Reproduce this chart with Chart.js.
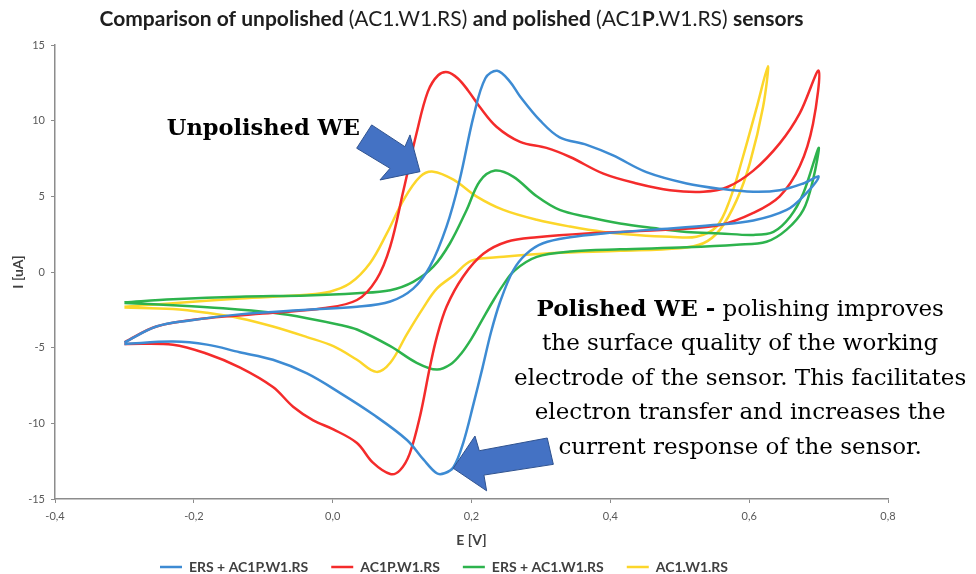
<!DOCTYPE html>
<html>
<head>
<meta charset="utf-8">
<script src="https://cdn.jsdelivr.net/npm/chart.js@4.4.1/dist/chart.umd.min.js"></script>
<style>
  html, body { margin: 0; padding: 0; background: #fff; }
  #wrap { width: 976px; height: 574px; }
</style>
</head>
<body>
<div id="wrap"><canvas id="cv" width="976" height="574"></canvas></div>
<script>
// cyclic voltammograms: potential E [V] against current I [uA]
const seriesLabels = ['ERS + AC1P.W1.RS', 'AC1P.W1.RS', 'ERS + AC1.W1.RS', 'AC1.W1.RS'];
const seriesColors = ['#3d8bd3', '#f42b2b', '#2db34d', '#fcd62a'];

// ERS + AC1P.W1.RS (polished, blue)
const ersAc1pE = [-0.300, -0.254, -0.206, -0.134, -0.037, 0.035, 0.083, 0.116, 0.140, 0.164, 0.183, 0.203, 0.220, 0.237, 0.255, 0.270, 0.299, 0.327, 0.366, 0.404, 0.452, 0.510, 0.558, 0.606, 0.644, 0.678, 0.700,
  0.678, 0.654, 0.606, 0.548, 0.462, 0.390, 0.342, 0.303, 0.279, 0.260, 0.241, 0.228, 0.216, 0.203, 0.188, 0.174, 0.161, 0.150, 0.131, 0.107, 0.058, 0.011, -0.037, -0.086, -0.134, -0.181, -0.230, -0.300];
const ersAc1pI = [-4.65, -3.6, -3.2, -2.8, -2.5, -2.3, -1.95, -1.1, 0.35, 3.0, 6.1, 10.3, 12.8, 13.3, 12.6, 11.6, 10.0, 8.9, 8.4, 7.7, 6.6, 5.85, 5.5, 5.3, 5.4, 5.85, 6.3,
  5.0, 4.1, 3.4, 3.1, 2.8, 2.55, 2.3, 1.9, 1.2, 0.1, -2.0, -4.0, -6.3, -8.7, -11.3, -12.9, -13.3, -13.3, -12.4, -11.1, -9.4, -8.0, -6.7, -5.8, -5.3, -4.8, -4.6, -4.75];

// AC1P.W1.RS (polished, red)
const ac1pE = [-0.300, -0.254, -0.181, -0.086, -0.014, 0.035, 0.063, 0.083, 0.102, 0.121, 0.137, 0.152, 0.166, 0.180, 0.195, 0.212, 0.236, 0.270, 0.308, 0.342, 0.390, 0.438, 0.486, 0.534, 0.568, 0.606, 0.644, 0.673, 0.700,
  0.692, 0.673, 0.644, 0.606, 0.558, 0.486, 0.366, 0.294, 0.251, 0.217, 0.188, 0.164, 0.150, 0.140, 0.126, 0.111, 0.097, 0.083, 0.058, 0.035, 0.001, -0.028, -0.057, -0.086, -0.134, -0.181, -0.230, -0.300];
const ac1pI = [-4.65, -3.6, -3.05, -2.7, -2.4, -1.85, -0.5, 1.7, 5.4, 9.2, 11.9, 13.0, 13.2, 12.8, 12.0, 10.9, 9.6, 8.6, 8.2, 7.6, 6.5, 5.85, 5.4, 5.3, 5.6, 6.7, 8.5, 10.5, 13.3,
  9.8, 7.0, 5.0, 3.9, 3.1, 2.8, 2.55, 2.3, 2.0, 1.2, -0.3, -2.3, -4.3, -6.3, -9.5, -12.0, -13.1, -13.35, -12.6, -11.3, -10.4, -9.8, -8.9, -7.6, -6.3, -5.4, -4.8, -4.75];

// ERS + AC1.W1.RS (unpolished, green)
const ersAc1E = [-0.300, -0.230, -0.134, -0.037, 0.035, 0.083, 0.116, 0.145, 0.169, 0.193, 0.212, 0.234, 0.260, 0.294, 0.327, 0.366, 0.414, 0.462, 0.510, 0.558, 0.606, 0.635, 0.659, 0.678, 0.700,
  0.692, 0.678, 0.654, 0.625, 0.582, 0.510, 0.414, 0.342, 0.294, 0.262, 0.245, 0.230, 0.215, 0.200, 0.185, 0.170, 0.150, 0.121, 0.083, 0.035, 0.011, -0.037, -0.086, -0.158, -0.230, -0.300];
const ersAc1I = [-2.0, -1.8, -1.63, -1.55, -1.4, -1.2, -0.65, 0.35, 1.9, 4.1, 6.0, 6.7, 6.3, 5.0, 4.1, 3.65, 3.2, 2.9, 2.65, 2.55, 2.45, 2.65, 3.65, 5.2, 8.2,
  6.1, 4.1, 2.8, 2.0, 1.8, 1.63, 1.5, 1.35, 1.0, 0.1, -0.9, -2.0, -3.2, -4.4, -5.4, -6.1, -6.45, -6.0, -4.9, -3.8, -3.5, -3.05, -2.7, -2.4, -2.2, -2.05];

// AC1.W1.RS (unpolished, yellow)
const ac1E = [-0.300, -0.230, -0.134, -0.037, -0.004, 0.025, 0.054, 0.078, 0.102, 0.126, 0.145, 0.174, 0.207, 0.246, 0.294, 0.342, 0.390, 0.438, 0.486, 0.524, 0.553, 0.572, 0.591, 0.611, 0.627,
  0.620, 0.601, 0.582, 0.558, 0.534, 0.500, 0.414, 0.318, 0.246, 0.200, 0.175, 0.150, 0.130, 0.107, 0.083, 0.063, 0.035, 0.001, -0.037, -0.086, -0.134, -0.181, -0.230, -0.300];
const ac1I = [-2.3, -2.07, -1.75, -1.5, -1.3, -0.75, 0.6, 2.55, 4.75, 6.3, 6.63, 6.1, 5.0, 4.1, 3.45, 3.0, 2.65, 2.45, 2.33, 2.33, 3.0, 4.75, 7.6, 10.9, 13.6,
  10.9, 7.2, 4.75, 2.8, 1.9, 1.57, 1.4, 1.25, 1.0, 0.75, -0.2, -1.1, -2.4, -4.1, -6.0, -6.6, -5.8, -4.9, -4.3, -3.6, -3.05, -2.7, -2.45, -2.35];

const seriesE = [ersAc1pE, ac1pE, ersAc1E, ac1E];
const seriesI = [ersAc1pI, ac1pI, ersAc1I, ac1I];

// block arrows of the two call-outs, corners in (E, I)
const arrowUnpolished = [[0.0562, 9.72], [0.1041, 8.28], [0.1114, 9.06], [0.1258, 6.63], [0.0681, 6.08], [0.0826, 6.85], [0.0346, 8.18]];
const arrowPolished = [[0.1737, -12.97], [0.2050, -10.84], [0.2112, -11.81], [0.3091, -10.97], [0.3179, -12.71], [0.2179, -13.42], [0.2218, -14.46]];

const polishedLines = [
  'the surface quality of the working',
  'electrode of the sensor. This facilitates',
  'electron transfer and increases the',
  'current response of the sensor.'
];

const titleParts = [
  ['Comparison of unpolished ', 'bold'], ['(AC1.W1.RS) ', 'normal'], ['and polished ', 'bold'],
  ['(AC1', 'normal'], ['P', 'bold'], ['.W1.RS) ', 'normal'], ['sensors', 'bold']
];

const decimalComma = v => (Math.abs(v) < 1e-9 ? 0 : v).toFixed(1).replace('.', ',');

const titlePlugin = {
  id: 'mixedTitle',
  afterDraw(chart) {
    const ctx = chart.ctx;
    ctx.save();
    ctx.fillStyle = '#1e1e1e';
    ctx.textBaseline = 'alphabetic';
    const size = 21;
    let total = 0;
    titleParts.forEach(([t, w]) => { ctx.font = w + ' ' + size + 'px Lato'; total += ctx.measureText(t).width; });
    let x = 451.5 - total / 2;
    titleParts.forEach(([t, w]) => {
      ctx.font = w + ' ' + size + 'px Lato';
      ctx.fillText(t, x, 26);
      x += ctx.measureText(t).width;
    });
    ctx.restore();
  }
};

const calloutPlugin = {
  id: 'callouts',
  afterDatasetsDraw(chart) {
    const {ctx, scales: {x, y}} = chart;
    const px = e => x.getPixelForValue(e);
    const py = i => y.getPixelForValue(i);
    ctx.save();

    ctx.fillStyle = '#4472c4';
    ctx.strokeStyle = '#2f528f';
    ctx.lineWidth = 1;
    [arrowUnpolished, arrowPolished].forEach(arrow => {
      ctx.beginPath();
      arrow.forEach(([e, i], k) => k ? ctx.lineTo(px(e), py(i)) : ctx.moveTo(px(e), py(i)));
      ctx.closePath();
      ctx.fill();
      ctx.stroke();
    });

    ctx.fillStyle = '#000';
    ctx.textBaseline = 'alphabetic';
    ctx.textAlign = 'left';
    ctx.font = 'bold 22.5px "DejaVu Serif"';
    ctx.fillText('Unpolished WE', px(-0.239), py(9.05));

    const cx = px(0.587);
    const y0 = py(-2.88);
    const lineGap = 34.6;
    const boldPart = 'Polished WE -';
    const restPart = ' polishing improves';
    ctx.font = 'bold 23px "DejaVu Serif"';
    const wb = ctx.measureText(boldPart).width;
    ctx.font = '23px "DejaVu Serif"';
    const wr = ctx.measureText(restPart).width;
    const x0 = cx - (wb + wr) / 2;
    ctx.font = 'bold 23px "DejaVu Serif"';
    ctx.fillText(boldPart, x0, y0);
    ctx.font = '23px "DejaVu Serif"';
    ctx.fillText(restPart, x0 + wb, y0);
    ctx.textAlign = 'center';
    polishedLines.forEach((line, k) => ctx.fillText(line, cx, y0 + lineGap * (k + 1)));
    ctx.restore();
  }
};

const axisGrid = { drawOnChartArea: false, drawTicks: true, tickLength: 4, color: '#8c8c8c', lineWidth: 1 };
const axisBorder = { color: '#8c8c8c', width: 1.5 };
const tickFont = { family: 'Lato', size: 11 };
const axisTitleFont = { family: 'Lato', size: 14, weight: 'bold' };

new Chart(document.getElementById('cv'), {
  type: 'scatter',
  data: {
    datasets: seriesLabels.map((label, s) => ({
      label: label,
      data: seriesE[s].map((e, k) => ({ x: e, y: seriesI[s][k] })),
      showLine: true,
      borderColor: seriesColors[s],
      backgroundColor: seriesColors[s],
      borderWidth: 2.5,
      pointRadius: 0,
      tension: 0.35,
      fill: false
    }))
  },
  options: {
    responsive: false,
    animation: false,
    events: [],
    layout: { padding: { top: 45, right: 88, bottom: -10, left: 0 } },
    scales: {
      x: {
        type: 'linear',
        min: -0.4,
        max: 0.8,
        afterFit: s => { s.height = 38; },
        ticks: { stepSize: 0.2, color: '#595959', font: tickFont, padding: 7, callback: v => decimalComma(v) },
        grid: axisGrid,
        border: axisBorder,
        title: { display: true, text: 'E [V]', color: '#404040', font: axisTitleFont, padding: { top: 0, bottom: -12 } }
      },
      y: {
        min: -15,
        max: 15,
        afterFit: s => { s.width = 55; },
        ticks: { stepSize: 5, color: '#595959', font: tickFont, padding: 6 },
        grid: axisGrid,
        border: axisBorder,
        title: { display: true, text: 'I [uA]', color: '#404040', font: axisTitleFont, padding: { top: 10, bottom: 0 } }
      }
    },
    plugins: {
      legend: {
        position: 'bottom',
        labels: {
          usePointStyle: true,
          pointStyle: 'line',
          pointStyleWidth: 22,
          padding: 23,
          color: '#404040',
          font: { family: 'Lato', size: 14, weight: 'bold' }
        }
      },
      title: { display: false },
      tooltip: { enabled: false }
    }
  },
  plugins: [titlePlugin, calloutPlugin]
});
</script>
</body>
</html>
